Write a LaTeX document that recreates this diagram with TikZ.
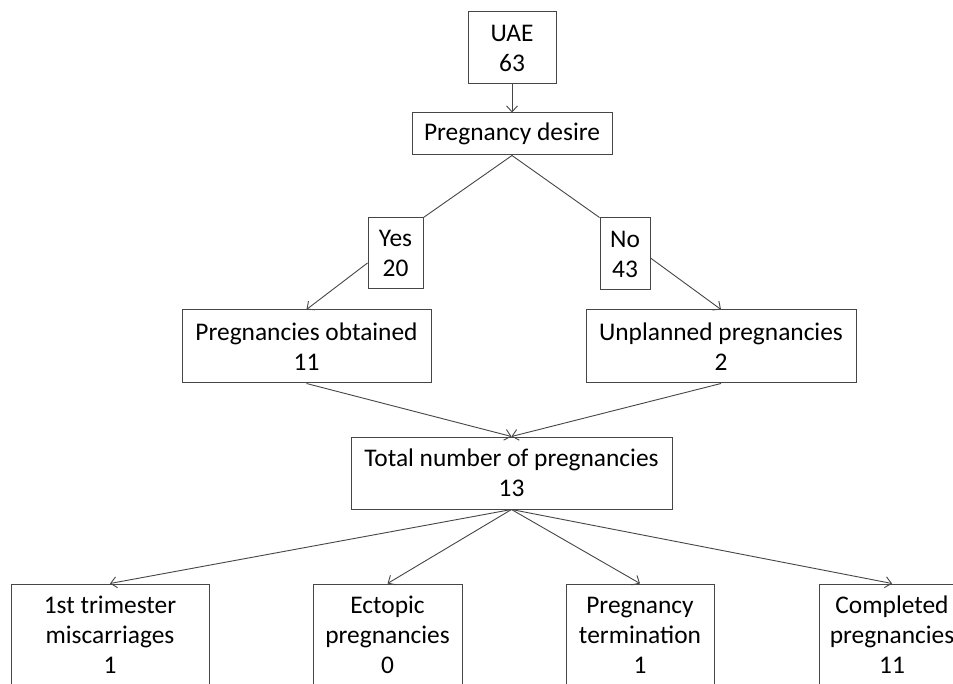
\documentclass[tikz,border=0pt]{standalone}
\usepackage{fontspec}
\setmainfont{Carlito}
\usetikzlibrary{arrows.meta}
\definecolor{linegray}{RGB}{70,70,70}
\begin{document}
\begin{tikzpicture}[x=1pt,y=-1pt,
  box/.style={draw=linegray, line width=1pt, inner sep=0pt, align=center,
    font=\fontsize{25.4}{30}\selectfont, text=black},
  conn/.style={draw=linegray, line width=0.9pt},
  arr/.style={conn, -{Straight Barb[length=6pt,width=11pt]}}]
\useasboundingbox (0,0) rectangle (953,684);
\clip (0,0) rectangle (953,684);
\fill[white] (0,0) rectangle (953,684);
\node[box, minimum width=88pt, minimum height=72pt] (uae) at (512,48) {UAE\\63};
\node[box, minimum width=200pt, minimum height=42pt] (desire) at (512,134) {Pregnancy desire};
\node[box, minimum width=55pt, minimum height=71pt] (yes) at (395.5,253.5) {Yes\\20};
\node[box, minimum width=50pt, minimum height=72pt] (no) at (625,254) {No\\43};
\node[box, minimum width=249pt, minimum height=73pt] (obt) at (306.5,346.5) {Pregnancies obtained\\11};
\node[box, minimum width=270pt, minimum height=73pt] (unpl) at (721,346.5) {Unplanned pregnancies\\2};
\node[box, minimum width=321pt, minimum height=72pt] (total) at (511.5,473) {Total number of pregnancies\\13};
\node[box, minimum width=198pt, minimum height=102pt] (b1) at (110,635) {1st trimester\\miscarriages\\1};
\node[box, minimum width=149pt, minimum height=102pt] (b2) at (387.5,635) {Ectopic\\pregnancies\\0};
\node[box, minimum width=148pt, minimum height=102pt] (b3) at (640,635) {Pregnancy\\termination\\1};
\node[box, minimum width=146pt, minimum height=102pt] (b4) at (892,635) {Completed\\pregnancies\\11};
\draw[arr] (uae) -- (desire);
\draw[conn] (desire.south) -- (yes.north east);
\draw[conn] (desire.south) -- (no.north west);
\draw[arr] ([yshift=-9.5pt]yes.west) -- (obt.north);
\draw[arr] ([yshift=-4pt]no.east) -- (unpl.north);
\draw[arr] (obt.south) -- (total.north);
\draw[arr] (unpl.south) -- (total.north);
\draw[arr] (total.south) -- (b1.north);
\draw[arr] (total.south) -- (b2.north);
\draw[arr] (total.south) -- (b3.north);
\draw[arr] (total.south) -- (b4.north);
\end{tikzpicture}
\end{document}
